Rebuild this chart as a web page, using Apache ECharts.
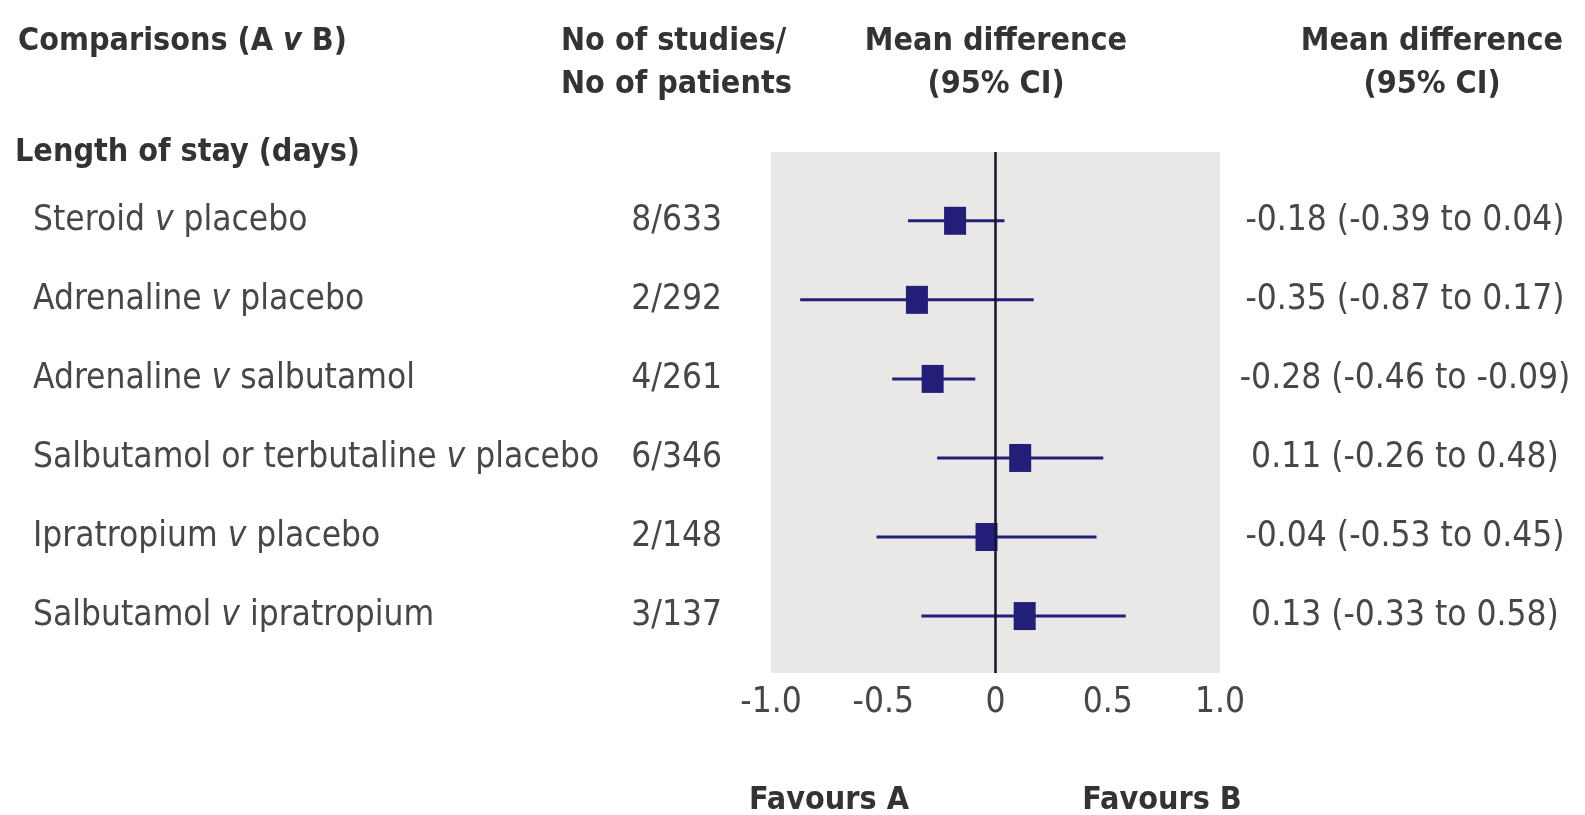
<!DOCTYPE html>
<html>
<head>
<meta charset="utf-8">
<script src="https://cdn.jsdelivr.net/npm/echarts@6/dist/echarts.min.js"></script>
<style>
  html, body { margin: 0; padding: 0; background: #ffffff; }
  #chart { width: 1585px; height: 815px; }
</style>
</head>
<body>
<div id="chart"></div>
<script>
// Comparisons (treatment A v treatment B)
const groupA = ['Steroid', 'Adrenaline', 'Adrenaline', 'Salbutamol or terbutaline', 'Ipratropium', 'Salbutamol'];
const groupB = ['placebo', 'placebo', 'salbutamol', 'placebo', 'placebo', 'ipratropium'];
const studies = [8, 2, 4, 6, 2, 3];
const patients = [633, 292, 261, 346, 148, 137];
// Mean difference in length of stay (days) with 95% CI
const meanDiff = [-0.18, -0.35, -0.28, 0.11, -0.04, 0.13];
const ciLow = [-0.39, -0.87, -0.46, -0.26, -0.53, -0.33];
const ciHigh = [0.04, 0.17, -0.09, 0.48, 0.45, 0.58];
const xTicks = ['-1.0', '-0.5', '0', '0.5', '1.0'];

const FONT = "'Liberation Sans Narrow', 'DejaVu Sans Condensed', 'Arial Narrow', sans-serif";
const TEXT = '#474747';
const HEAD = '#333333';
const NAVY = '#231f78';
const FS = 35;
const FSB = 32;

const rows = meanDiff.map((m, i) => i);

const chart = echarts.init(document.getElementById('chart'), null, { renderer: 'canvas' });

function headText(x, y, text, align) {
  return {
    type: 'text', x: x, y: y,
    style: {
      text: text, fontFamily: FONT, fontSize: FSB, fontWeight: 'bold',
      fill: HEAD, align: align, verticalAlign: 'middle'
    }
  };
}

const option = {
  animation: false,
  backgroundColor: '#ffffff',
  grid: {
    left: 771, right: 365, top: 152, bottom: 142,
    show: true, backgroundColor: '#e9e8e6', borderWidth: 0
  },
  xAxis: {
    type: 'value', min: -1, max: 1, interval: 0.5,
    axisLine: { show: false }, axisTick: { show: false }, splitLine: { show: false },
    axisLabel: {
      margin: 12, fontFamily: FONT, fontSize: FS, color: TEXT,
      formatter: v => xTicks[Math.round((v + 1) / 0.5)]
    }
  },
  yAxis: {
    type: 'value', inverse: true, min: -0.87, max: 5.72,
    show: false
  },
  graphic: [
    {
      type: 'text', x: 18, y: 42,
      style: {
        text: '{b|Comparisons (A }{bi|v}{b| B)}',
        verticalAlign: 'middle',
        rich: {
          b: { fontFamily: FONT, fontSize: FSB, fontWeight: 'bold', fill: HEAD },
          bi: { fontFamily: FONT, fontSize: FSB, fontWeight: 'bold', fontStyle: 'italic', fill: HEAD }
        }
      }
    },
    headText(561, 42, 'No of studies/', 'left'),
    headText(561, 85, 'No of patients', 'left'),
    headText(996, 42, 'Mean difference', 'center'),
    headText(996, 85, '(95% CI)', 'center'),
    headText(1432, 42, 'Mean difference', 'center'),
    headText(1432, 85, '(95% CI)', 'center'),
    headText(15, 153, 'Length of stay (days)', 'left'),
    headText(829, 801, 'Favours A', 'center'),
    headText(1162, 801, 'Favours B', 'center')
  ],
  series: [
    {
      // confidence interval whiskers
      type: 'custom',
      z: 2,
      data: rows.map(i => [ciLow[i], ciHigh[i], i]),
      encode: { x: [0, 1], y: 2 },
      renderItem: (params, api) => {
        const a = api.coord([api.value(0), api.value(2)]);
        const b = api.coord([api.value(1), api.value(2)]);
        return {
          type: 'line',
          shape: { x1: a[0], y1: a[1], x2: b[0], y2: b[1] },
          style: { stroke: NAVY, lineWidth: 3 }
        };
      },
      markLine: {
        silent: true, symbol: 'none',
        label: { show: false },
        lineStyle: { color: '#15152a', width: 2.5, type: 'solid' },
        data: [{ xAxis: 0 }]
      }
    },
    {
      // point estimates
      type: 'scatter',
      z: 3,
      symbol: 'rect',
      symbolSize: [22, 28],
      itemStyle: { color: NAVY, opacity: 1 },
      data: rows.map(i => [meanDiff[i], i])
    },
    {
      // table columns: comparison, studies/patients, estimate text
      type: 'custom',
      z: 4,
      clip: false,
      data: rows.map(i => [0, i]),
      encode: { x: 0, y: 1 },
      renderItem: (params, api) => {
        const i = api.value(1);
        const y = api.coord([0, i])[1];
        const ci = meanDiff[i].toFixed(2) + ' (' + ciLow[i].toFixed(2) + ' to ' + ciHigh[i].toFixed(2) + ')';
        const base = { fontFamily: FONT, fontSize: FS, fill: TEXT };
        return {
          type: 'group',
          children: [
            {
              type: 'text', x: 33, y: y,
              style: {
                text: '{n|' + groupA[i] + ' }{i|v}{n| ' + groupB[i] + '}',
                verticalAlign: 'middle',
                rich: {
                  n: { fontFamily: FONT, fontSize: FS, fill: TEXT },
                  i: { fontFamily: FONT, fontSize: FS, fill: TEXT, fontStyle: 'italic' }
                }
              }
            },
            {
              type: 'text', x: 722, y: y,
              style: Object.assign({ text: studies[i] + '/' + patients[i], align: 'right', verticalAlign: 'middle' }, base)
            },
            {
              type: 'text', x: 1405, y: y,
              style: Object.assign({ text: ci, align: 'center', verticalAlign: 'middle' }, base)
            }
          ]
        };
      }
    }
  ]
};

chart.setOption(option);
</script>
</body>
</html>
